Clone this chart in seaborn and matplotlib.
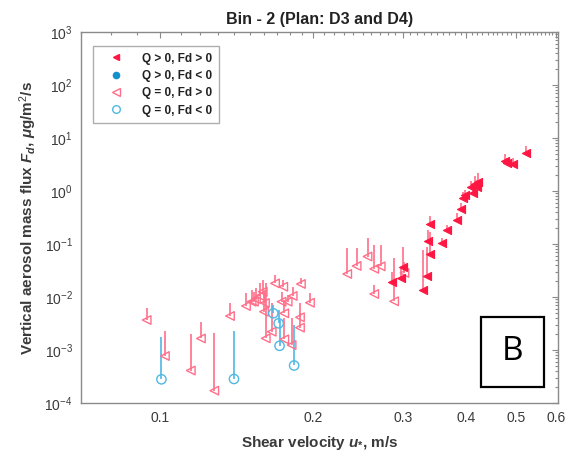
import numpy as np
import pandas as pd
import seaborn as sns
import matplotlib
matplotlib.use("Agg")
import matplotlib.pyplot as plt
from matplotlib.ticker import FixedLocator, FixedFormatter, LogLocator, NullFormatter
from matplotlib.lines import Line2D
from matplotlib.patches import Rectangle

# ---------------- data ----------------
# Q = 0, Fd > 0  (open red triangles)
u_q0_pos = [0.0942, 0.1023, 0.1150, 0.1204, 0.1279, 0.1373, 0.1476, 0.1514, 0.1530, 0.1544,
            0.1572, 0.1592, 0.1601, 0.1608, 0.1614, 0.1658, 0.1683, 0.1734, 0.1747, 0.1755,
            0.1755, 0.1782, 0.1814, 0.1823, 0.1884, 0.1884, 0.1892, 0.1971, 0.2333, 0.2434,
            0.2557, 0.2636, 0.2714, 0.2636, 0.2884, 0.3022]
f_q0_pos = [0.00368, 0.00077, 0.00041, 0.00165, 0.000171, 0.00438, 0.00676, 0.00815, 0.00815, 0.00917,
            0.01045, 0.01259, 0.00528, 0.0077, 0.00166, 0.00221, 0.0181, 0.00815, 0.0156, 0.00492,
            0.00159, 0.00815, 0.00124, 0.01045, 0.00414, 0.00264, 0.0176, 0.0078, 0.0272, 0.0385,
            0.0581, 0.034, 0.0379, 0.0114, 0.0083, 0.0284]
top_q0_pos = [0.0062, 0.00231, 0.00198, 0.00342, 0.00207, 0.0077, 0.0119, 0.0136, 0.0125, 0.0147,
              0.0184, 0.0209, 0.0125, 0.0136, 0.0184, 0.0077, 0.026, 0.0125, 0.0209, 0.0088,
              0.00402, 0.011, 0.00402, 0.0154, 0.0077, 0.0050, 0.0229, 0.0119, 0.083, 0.083,
              0.128, 0.0958, 0.0958, 0.0168, 0.0556, 0.046]

# Q = 0, Fd < 0  (open cyan circles)
u_q0_neg = [0.1007, 0.1398, 0.1670, 0.1711, 0.1718, 0.1835]
f_q0_neg = [0.00028, 0.000284, 0.00492, 0.00319, 0.0012, 0.00051]
top_q0_neg = [0.00178, 0.00231, 0.00706, 0.00569, 0.0037, 0.00296]

# Q > 0, Fd > 0  (filled red triangles)
u_qp_pos = [0.2850, 0.2969, 0.2999, 0.3281, 0.3342, 0.3392, 0.3366, 0.3392, 0.3576, 0.3659,
            0.3838, 0.3897, 0.3943, 0.3973, 0.4114, 0.4079, 0.4158, 0.4220, 0.4196, 0.4762,
            0.4805, 0.4944, 0.5236]
f_qp_pos = [0.01944, 0.02254, 0.0363, 0.01355, 0.0249, 0.0642, 0.1115, 0.2354, 0.1054, 0.1837,
            0.2837, 0.457, 0.728, 0.84, 0.917, 1.19, 1.356, 1.51, 1.205, 3.73,
            3.37, 3.19, 5.28]
top_qp_pos = [0.0297, 0.035, 0.0889, 0.077, 0.0889, 0.1706, 0.1837, 0.3375, 0.13, 0.228,
              0.384, 0.594, 0.957, 1.06, 1.15, 1.55, 1.9, 2.2, 1.6, 5.0,
              4.2, 4.2, 7.07]

x_ticks = [0.1, 0.2, 0.3, 0.4, 0.5, 0.6]
x_tick_labels = ["0.1", "0.2", "0.3", "0.4", "0.5", "0.6"]
y_ticks = [1e-4, 1e-3, 1e-2, 1e-1, 1e0, 1e1, 1e2, 1e3]
y_tick_labels = [r"$10^{-4}$", r"$10^{-3}$", r"$10^{-2}$", r"$10^{-1}$",
                 r"$10^{0}$", r"$10^{1}$", r"$10^{2}$", r"$10^{3}$"]
legend_labels = ["Q > 0, Fd > 0", "Q > 0, Fd < 0", "Q = 0, Fd > 0", "Q = 0, Fd < 0"]

# ---------------- style ----------------
sns.set_theme(style="white")
plt.rcParams["font.family"] = ["Liberation Sans", "DejaVu Sans"]
plt.rcParams["mathtext.fontset"] = "custom"
plt.rcParams["mathtext.rm"] = "Liberation Sans"
plt.rcParams["mathtext.it"] = "Liberation Sans:italic:bold"
plt.rcParams["mathtext.bf"] = "Liberation Sans:bold"

RED = "#ff1744"
RED_LINE = "#ff6f8a"
CYAN = "#4fb8e3"
BLUE = "#1391cf"
AX_COL = "#8a8a8a"
TXT_COL = "#3a3a3a"

fig = plt.figure(figsize=(5.74, 4.58), dpi=100)
ax = fig.add_axes([0.1411, 0.1201, 0.8310, 0.8100])

ax.set_xscale("log")
ax.set_yscale("log")

# error bars (upper only)
ax.vlines(u_q0_pos, f_q0_pos, top_q0_pos, colors=RED_LINE, linewidth=1.2, zorder=1)
ax.vlines(u_qp_pos, f_qp_pos, top_qp_pos, colors=RED_LINE, linewidth=1.2, zorder=1)
ax.vlines(u_q0_neg, f_q0_neg, top_q0_neg, colors=CYAN, linewidth=1.2, zorder=1)

df_a = pd.DataFrame({"u": u_q0_pos, "f": f_q0_pos})
df_b = pd.DataFrame({"u": u_q0_neg, "f": f_q0_neg})
df_c = pd.DataFrame({"u": u_qp_pos, "f": f_qp_pos})

sns.scatterplot(data=df_a, x="u", y="f", marker="<", s=38, facecolor="none",
                edgecolor=RED_LINE, linewidth=1.0, ax=ax, zorder=3)
sns.scatterplot(data=df_b, x="u", y="f", marker="o", s=45, facecolor="none",
                edgecolor=CYAN, linewidth=1.0, ax=ax, zorder=3)
sns.scatterplot(data=df_c, x="u", y="f", marker="<", s=34, color=RED,
                edgecolor=RED, linewidth=0.8, ax=ax, zorder=4)

ax.set_xlim(0.07, 0.605)
ax.set_ylim(1e-4, 1e3)

ax.xaxis.set_major_locator(FixedLocator(x_ticks))
ax.xaxis.set_major_formatter(FixedFormatter(x_tick_labels))
ax.xaxis.set_minor_locator(FixedLocator(list(np.arange(0.07, 0.6051, 0.01))))
ax.xaxis.set_minor_formatter(NullFormatter())
ax.yaxis.set_major_locator(FixedLocator(y_ticks))
ax.yaxis.set_major_formatter(FixedFormatter(y_tick_labels))
ax.yaxis.set_minor_locator(LogLocator(base=10, subs=np.arange(2, 10), numticks=20))
ax.yaxis.set_minor_formatter(NullFormatter())

ax.tick_params(which="both", direction="in", top=True, right=True,
               colors=AX_COL, labelcolor=TXT_COL, labelsize=10, width=0.8)
ax.tick_params(which="major", length=4, pad=6)
ax.tick_params(which="minor", length=2.5)
for sp in ax.spines.values():
    sp.set_color(AX_COL)
    sp.set_linewidth(1.0)

ax.set_xlabel(r"Shear velocity $u_{\mathbf{*}}$, m/s", fontsize=11, fontweight="bold",
              color=TXT_COL, labelpad=6)
ax.set_ylabel(r"Vertical aerosol mass flux $F_d$, $\mu$g/m$^2$/s", fontsize=11,
              fontweight="bold", color=TXT_COL, labelpad=4)
ax.set_title("Bin - 2 (Plan: D3 and D4)", fontsize=11.5, fontweight="bold",
             color="#222222", pad=6)

handles = [
    Line2D([], [], linestyle="none", marker="<", markersize=5, color=RED, markeredgecolor=RED),
    Line2D([], [], linestyle="none", marker="o", markersize=4.5, color=BLUE, markeredgecolor=BLUE),
    Line2D([], [], linestyle="none", marker="<", markersize=5.5, markerfacecolor="none",
           markeredgecolor=RED_LINE),
    Line2D([], [], linestyle="none", marker="o", markersize=5.5, markerfacecolor="none",
           markeredgecolor=CYAN),
]
leg = ax.legend(handles, legend_labels, loc="upper left", bbox_to_anchor=(0.025, 0.962),
                borderaxespad=0, frameon=True, fancybox=False, fontsize=8.5,
                handlelength=2.8, borderpad=0.55, labelspacing=0.45, handletextpad=0.8)
leg.get_frame().set_edgecolor("#9a9a9a")
leg.get_frame().set_linewidth(1.0)
for t in leg.get_texts():
    t.set_fontweight("bold")
    t.set_color("#222222")

# "B" panel label box
fig.patches.append(Rectangle((481 / 574, 1 - 387 / 458), 63 / 574, 70 / 458,
                             transform=fig.transFigure, fill=False,
                             edgecolor="black", linewidth=1.6))
fig.text((481 + 31.5) / 574, 1 - 352 / 458, "B", fontsize=24, ha="center", va="center",
         family=["Open Sans", "DejaVu Sans"], color="black")

fig.savefig("out.png", dpi=100)
